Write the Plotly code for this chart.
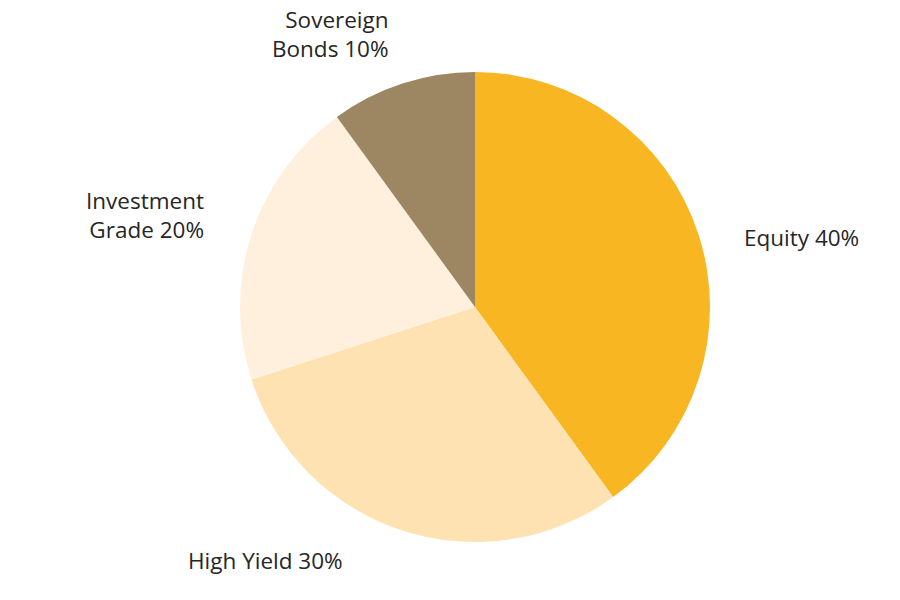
import plotly.graph_objects as go

labels = ["Equity", "High Yield", "Investment Grade", "Sovereign Bonds"]
values = [40, 30, 20, 10]
colors = ["#F9B623", "#FEE2B2", "#FEF0DC", "#9C8762"]
label_texts = ["Equity 40%", "High Yield 30%", "Investment<br>Grade 20%", "Sovereign<br>Bonds 10%"]

W, H = 900, 600
OFF = 7  # page body margin compensation

fig = go.Figure(go.Pie(
    labels=labels,
    values=values,
    textinfo="none",
    sort=False,
    direction="clockwise",
    rotation=0,
    marker=dict(colors=colors, line=dict(width=0)),
    showlegend=False,
    hoverinfo="label+percent",
    domain=dict(x=[(239 - OFF) / W, (709 - OFF) / W], y=[1 - (541 - OFF) / H, 1 - (71 - OFF) / H]),
))

# label placement: anchor x, block centre y, anchor side
label_pos = [
    (742, 237, "left"),
    (186, 559, "left"),
    (204, 214, "right"),
    (389, 33, "right"),
]
for txt, (px, py, xa) in zip(label_texts, label_pos):
    fig.add_annotation(
        x=(px - OFF) / W, y=1 - (py - OFF) / H, xref="paper", yref="paper",
        text=txt, showarrow=False, xanchor=xa, yanchor="middle", align=xa,
        borderpad=0,
        font=dict(family="Open Sans, Arial, sans-serif", size=22.5, color="#262626", weight=400),
    )

fig.update_layout(
    width=W, height=H,
    margin=dict(l=0, r=0, t=0, b=0),
    paper_bgcolor="white",
    plot_bgcolor="white",
)
fig.write_html("out.html")
